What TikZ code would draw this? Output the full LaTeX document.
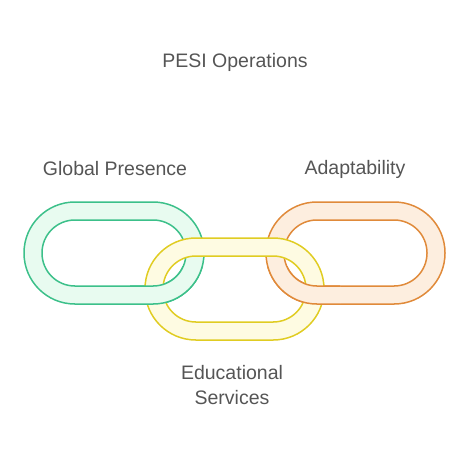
\documentclass[tikz,border=0pt]{standalone}
\usepackage{fontspec}
\setmainfont{Liberation Sans}
\usepackage{tikz}
\usepackage{xcolor}

\definecolor{greenline}{HTML}{3CC08A}
\definecolor{greenfill}{HTML}{E8FBF0}
\definecolor{yellowline}{HTML}{E0CC22}
\definecolor{yellowfill}{HTML}{FEFBE2}
\definecolor{orangeline}{HTML}{E08A3A}
\definecolor{orangefill}{HTML}{FDEEDF}
\definecolor{labeltext}{HTML}{555555}

% one chain link: outer box, inner box, colour name
\newcommand{\chainlink}[5]{%
  \filldraw[link, draw=#5line, fill=#5fill]
    [rounded corners=50.9pt] (#1,#2) rectangle (#3,#4)
    [rounded corners=32.9pt] (#1+18,#2+18) rectangle (#3-18,#4-18);
}

\begin{document}
\begin{tikzpicture}[x=1pt,y=-1pt,
  link/.style={even odd rule,line width=1.5pt},
  label/.style={text=labeltext,font=\fontsize{19.5}{25}\selectfont,align=center}]
\useasboundingbox (0,0) rectangle (470,458);

\chainlink{24}{202}{204}{304}{green}
\chainlink{266}{202}{445}{304}{orange}
\chainlink{145}{238}{324}{340}{yellow}

% lower crossings go back under
\begin{scope}
\clip (130,266) rectangle (215,320);
\chainlink{24}{202}{204}{304}{green}
\end{scope}
\begin{scope}
\clip (255,266) rectangle (340,320);
\chainlink{266}{202}{445}{304}{orange}
\end{scope}

\node[label] (title) at (235,62) {PESI Operations};
\node[label] (global) at (115,169) {Global Presence};
\node[label] (adapt) at (355,169) {Adaptability};
\node[label] (edu) at (232,385) {Educational\\Services};
\end{tikzpicture}
\end{document}
